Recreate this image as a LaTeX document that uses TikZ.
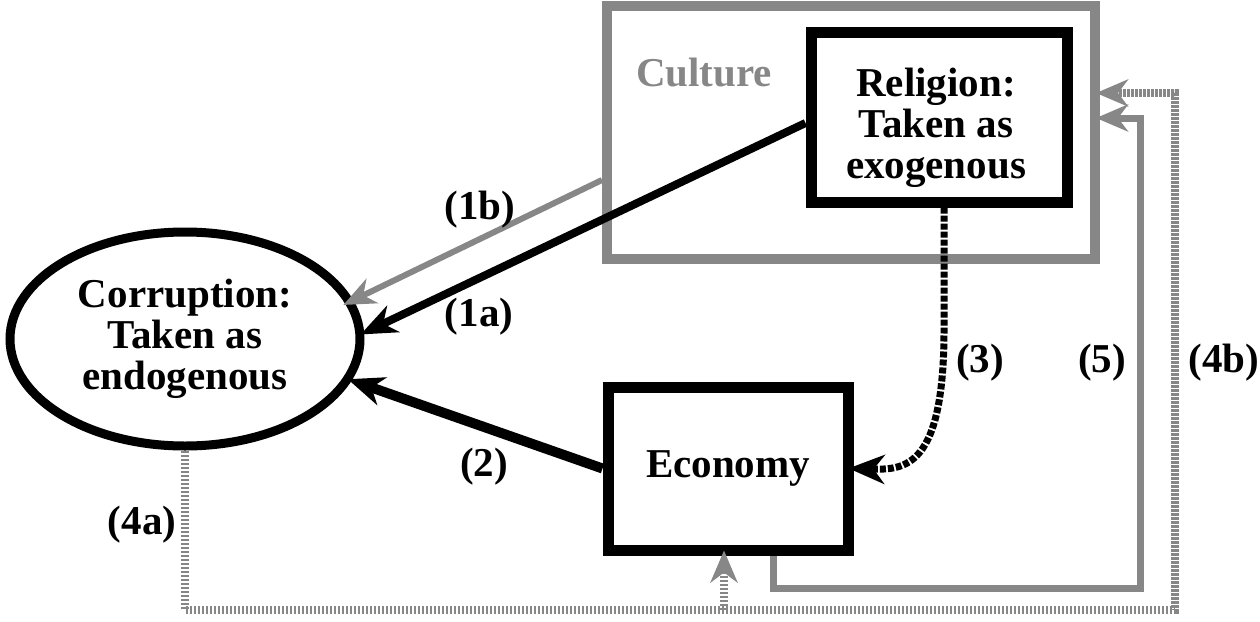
\documentclass[tikz,border=0pt]{standalone}
\usepackage{fontspec}
\setmainfont{Liberation Serif}
\usetikzlibrary{arrows.meta,shapes.geometric,calc}
\definecolor{midgray}{HTML}{878787}
\begin{document}
\begin{tikzpicture}[x=1pt,y=-1pt,
  txt/.style={font=\bfseries\fontsize{41}{41}\selectfont, inner sep=0pt, align=center},
  blackbox/.style={draw=black, line width=11pt, inner sep=0pt, rectangle},
  graybox/.style={draw=midgray, line width=10pt, inner sep=0pt, rectangle},
  tipblk/.style={-{Stealth[length=36pt,width=29pt,inset=11pt]}},
  tipgray/.style={-{Stealth[length=32pt,width=27pt,inset=10pt]}},
  blkarrow/.style={draw=black, tipblk, shorten >=-4pt},
  grayarrow/.style={draw=midgray, tipgray, shorten >=-4pt},
  dotblk/.style={draw=black, line width=7pt, dash pattern=on 6pt off 2pt, tipblk, shorten >=-5pt},
  dotgray/.style={draw=midgray, line width=8pt, dash pattern=on 2.5pt off 1.5pt},
]
\useasboundingbox (0,0) rectangle (1260,621);

% boxes
\node[graybox, minimum width=488pt, minimum height=253pt] (cult) at (851,132) {};
\node[txt, text=midgray] (culttxt) at (704,73) {Culture};
\node[blackbox, minimum width=256pt, minimum height=170pt] (rel) at (939,117) {};
\node[txt] (reltxt) at (936,128) {Religion:\\Taken as\\exogenous};
\node[txt, draw=black, ellipse, line width=9pt, minimum width=350pt, minimum height=214pt] (corr) at (185,339) {Corruption:\\Taken as\\endogenous};
\node[blackbox, txt, draw=black, line width=11pt, minimum width=240pt, minimum height=163pt] (econ) at (728,468.5) {Economy};

% coordinates for elbows
\coordinate (c3) at (944,330);
\coordinate (c3a) at (944,468);
\coordinate (c3b) at (905,470);
\coordinate (c5) at (1140,588);
\coordinate (c4) at (1175,610);
\coordinate (c4b) at (724,610);

% (1b)
\draw[grayarrow, line width=6pt, shorten >=-11pt] ($(cult.west)+(0,48)$) -- (corr.13);
% (1a)
\draw[blkarrow, line width=8pt] ($(rel.west)+(0,6)$) -- (corr.2);
% (2)
\draw[blkarrow, line width=10pt] (econ.west) -- (corr.-14);
% (3)
\draw[dotblk] ($(rel.south)+(5,0)$) -- (c3) .. controls (c3a) and (c3b) .. (econ.east);
% (5)
\draw[grayarrow, line width=7pt] ($(econ.south)+(45,0)$) |- (c5) |- ($(cult.east)+(0,-14)$);
% (4a)/(4b)
\draw[dotgray, tipgray, shorten >=-4pt] (corr.south) |- (c4) |- ($(cult.east)+(0,-39)$);
\draw[dotgray, tipgray, shorten >=-5pt] (c4b) -- (c4b |- econ.south);

% labels
\node[txt] (l1b) at (480,209.5) {(1b)};
\node[txt] (l1a) at (479,316.5) {(1a)};
\node[txt] (l2) at (484,466.5) {(2)};
\node[txt] (l3) at (980,362.5) {(3)};
\node[txt] (l5) at (1102,362.5) {(5)};
\node[txt] (l4b) at (1224,362.5) {(4b)};
\node[txt] (l4a) at (142,524.5) {(4a)};
\end{tikzpicture}
\end{document}
